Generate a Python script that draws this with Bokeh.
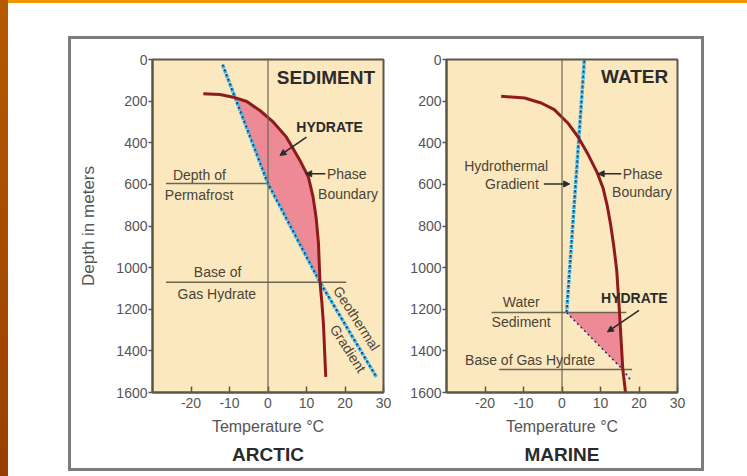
import numpy as np
from bokeh.plotting import figure
from bokeh.layouts import row, column
from bokeh.models import Range1d, FixedTicker, Label, Arrow, NormalHead, Title, Span
from bokeh.embed import file_html
from bokeh.resources import INLINE

# ---------------- data (temperature in deg C, depth in m) ----------------
depth_ticks = [0, 200, 400, 600, 800, 1000, 1200, 1400, 1600]
temp_ticks = [-20, -10, 0, 10, 20, 30]

# ARCTIC panel
arctic_phase_temp = [-16.8, -12.5, -9.0, -5.5, -2.1, 1.4, 4.8, 8.3, 10.5, 11.7, 12.5, 13.1, 13.5, 14.0, 14.4, 15.0]
arctic_phase_depth = [165, 168, 181, 202, 245, 301, 373, 485, 565, 660, 760, 880, 1070, 1170, 1270, 1525]
arctic_geo_temp = [-11.8, 0.0, 13.5, 28.2]
arctic_geo_depth = [25, 596, 1070, 1527]
arctic_level_depth = [596, 1070]        # depth of permafrost, base of gas hydrate
arctic_level_x0 = [-26.5, -26.5]
arctic_level_x1 = [0.0, 20.3]

# MARINE panel
marine_phase_temp = [-15.8, -9.7, -5.4, -2.0, 1.5, 4.1, 6.6, 9.2, 10.7, 11.8, 12.6, 13.4, 14.2, 14.9, 15.8, 16.5]
marine_phase_depth = [177, 185, 209, 241, 305, 370, 450, 546, 620, 707, 790, 890, 1010, 1205, 1490, 1600]
marine_water_temp = [5.8, 1.2]
marine_water_depth = [5, 1216]
marine_sed_temp = [1.2, 15.8, 18.0]
marine_sed_depth = [1216, 1490, 1545]
marine_level_depth = [1216, 1490]       # water/sediment, base of gas hydrate
marine_level_x0 = [-18.3, -16.3]
marine_level_x1 = [16.7, 18.2]

# ---------------- styling ----------------
BG = "#FCE8BF"
FRAME = "#5a5648"
PHASE = "#8E1B1B"
CYAN = "#33B4E4"
NAVY = "#283270"
PINK = "#EE8A95"
TXT = "#4a4436"
BOLD = "#2b2b2b"
FONT = "Liberation Sans"


def hydrate_zone(pt, pd_, gt, gd, top):
    d = np.linspace(max(min(pd_), min(gd), top), min(max(pd_), max(gd)), 3000)
    tp = np.interp(d, pd_, pt)
    tg = np.interp(d, gd, gt)
    m = tp >= tg - 1e-9
    dd, tpp, tgg = d[m], tp[m], tg[m]
    xs = list(tpp) + list(tgg[::-1])
    ys = list(dd) + list(dd[::-1])
    return xs, ys


def base_fig(width, bl, br, ylabel):
    p = figure(width=width, height=429, output_backend="svg", toolbar_location=None,
               x_range=Range1d(-30, 30), y_range=Range1d(1600, 0),
               min_border_left=bl, min_border_right=br, min_border_top=20, min_border_bottom=76)
    p.background_fill_color = BG
    p.border_fill_color = "white"
    p.outline_line_color = FRAME
    p.outline_line_width = 2
    p.xgrid.visible = False
    p.ygrid.visible = False
    for ax in (p.xaxis[0], p.yaxis[0]):
        ax.axis_line_color = FRAME
        ax.axis_line_width = 2
        ax.major_tick_line_color = FRAME
        ax.major_tick_line_width = 1.5
        ax.minor_tick_line_color = None
        ax.major_label_text_font = FONT
        ax.major_label_text_font_size = "14px"
        ax.major_label_text_color = "#555555"
    p.xaxis.ticker = FixedTicker(ticks=temp_ticks)
    p.xaxis.major_label_overrides = {t: str(t) for t in temp_ticks}
    p.yaxis.ticker = FixedTicker(ticks=depth_ticks)
    p.xaxis.major_tick_in = 6
    p.xaxis.major_tick_out = 0
    p.xaxis.major_label_standoff = 5
    p.yaxis.major_tick_in = 0
    p.yaxis.major_tick_out = 4
    p.yaxis.major_label_standoff = 1
    p.xaxis.axis_label = "Temperature °C"
    p.xaxis.axis_label_text_font = FONT
    p.xaxis.axis_label_text_font_style = "normal"
    p.xaxis.axis_label_text_font_size = "16px"
    p.xaxis.axis_label_text_color = "#555555"
    p.xaxis.axis_label_standoff = 7
    if ylabel:
        p.yaxis.axis_label = ylabel
        p.yaxis.axis_label_text_font = FONT
        p.yaxis.axis_label_text_font_style = "normal"
        p.yaxis.axis_label_text_font_size = "17px"
        p.yaxis.axis_label_text_color = "#555555"
        p.yaxis.axis_label_standoff = 15
    p.add_layout(Span(location=0, dimension="height", line_color="#6b6650", line_width=1.2))
    return p


def lbl(p, x, y, text, size="14px", bold=False, align="left", angle=0.0, color=None):
    p.add_layout(Label(x=x, y=y, text=text, text_font=FONT, text_font_size=size,
                       text_font_style="bold" if bold else "normal",
                       text_color=color or (BOLD if bold else TXT), text_align=align,
                       text_baseline="middle", angle=angle, angle_units="rad"))


def arrow(p, x0, y0, x1, y1):
    p.add_layout(Arrow(end=NormalHead(size=6, fill_color="#2b2b2b", line_color="#2b2b2b"),
                       x_start=x0, y_start=y0, x_end=x1, y_end=y1,
                       line_color="#2b2b2b", line_width=1.6))


def geo_line(p, xs, ys, cyan=True):
    if cyan:
        p.line(xs, ys, line_color=CYAN, line_width=3.5, line_dash="4 1")
    p.line(xs, ys, line_color=NAVY, line_width=1.6, line_dash="2 3")


def bottom_title(p, text):
    p.add_layout(Title(text=text, align="center", text_font=FONT, text_font_size="19px",
                       text_font_style="bold", text_color=BOLD, standoff=8), "below")


# ---------------- ARCTIC ----------------
p1 = base_fig(336, 81, 24, "Depth in meters")
hx, hy = hydrate_zone(arctic_phase_temp, arctic_phase_depth, arctic_geo_temp, arctic_geo_depth, 0)
p1.patch(hx, hy, fill_color=PINK, line_color=None)
p1.segment(x0=arctic_level_x0, x1=arctic_level_x1, y0=arctic_level_depth, y1=arctic_level_depth,
           line_color="#6b6650", line_width=1.5)
geo_line(p1, arctic_geo_temp, arctic_geo_depth)
p1.line(arctic_phase_temp, arctic_phase_depth, line_color=PHASE, line_width=3)

lbl(p1, 27.8, 85, "SEDIMENT", size="19px", bold=True, align="right")
lbl(p1, 16.0, 322, "HYDRATE", size="14px", bold=True, align="center")
arrow(p1, 10.0, 373, 3.1, 461)
lbl(p1, 15.3, 552, "Phase")
lbl(p1, 20.8, 645, "Boundary", align="center")
arrow(p1, 14.9, 549, 9.8, 549)
lbl(p1, -24.7, 557, "Depth of")
lbl(p1, -26.8, 653, "Permafrost")
lbl(p1, -13.1, 1022, "Base of", align="center")
lbl(p1, -13.3, 1126, "Gas Hydrate", align="center")
lbl(p1, 23.0, 1244, "Geothermal", align="center", angle=-1.0)
lbl(p1, 20.8, 1389, "Gradient", align="center", angle=-1.0)
bottom_title(p1, "ARCTIC")

# ---------------- MARINE ----------------
p2 = base_fig(294, 38, 24, None)
mx, my = hydrate_zone(marine_phase_temp, marine_phase_depth, marine_sed_temp, marine_sed_depth,
                      marine_level_depth[0])
p2.patch(mx, my, fill_color=PINK, line_color=None)
p2.segment(x0=marine_level_x0, x1=marine_level_x1, y0=marine_level_depth, y1=marine_level_depth,
           line_color="#6b6650", line_width=1.5)
geo_line(p2, marine_water_temp, marine_water_depth)
geo_line(p2, marine_sed_temp, marine_sed_depth, cyan=False)
p2.line(marine_phase_temp, marine_phase_depth, line_color=PHASE, line_width=3)

lbl(p2, 27.6, 82, "WATER", size="19px", bold=True, align="right")
lbl(p2, -14.5, 514, "Hydrothermal", align="center")
lbl(p2, -13.0, 598, "Gradient", align="center")
arrow(p2, -4.7, 598, 2.0, 598)
lbl(p2, 15.8, 549, "Phase")
lbl(p2, 20.8, 639, "Boundary", align="center")
arrow(p2, 15.4, 549, 9.4, 549)
lbl(p2, 18.8, 1148, "HYDRATE", size="14px", bold=True, align="center")
arrow(p2, 20.0, 1205, 11.8, 1309)
lbl(p2, -10.6, 1165, "Water", align="center")
lbl(p2, -10.6, 1261, "Sediment", align="center")
lbl(p2, -8.3, 1446, "Base of Gas Hydrate", align="center")
bottom_title(p2, "MARINE")

box = row(p1, p2, styles={"border": "3px solid #7c7c7c", "margin-top": "36px", "margin-left": "68px"})
page = column(box, width=747, height=476,
              styles={"background": "linear-gradient(to bottom, #B45A00, #9A3E00) 0 0 / 8px 100% no-repeat, "
                                    "linear-gradient(#F29400, #F29400) 0 0 / 100% 3px no-repeat, #ffffff"})

open("out.html", "w").write(file_html(page, INLINE))
